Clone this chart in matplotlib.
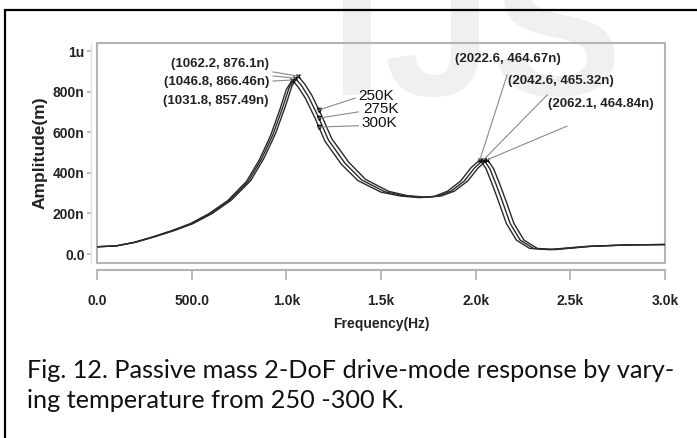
import numpy as np
import matplotlib.pyplot as plt
from matplotlib.patches import Rectangle

# drive-mode response (frequency in Hz, amplitude in nm)
freq_250 = [0, 101, 203, 304, 406, 507, 609, 710, 812, 883, 944, 995, 1030, 1062.2, 1096, 1134,
            1186, 1240, 1330, 1418, 1540, 1638, 1738, 1818, 1888, 1958, 2014, 2062.1, 2095, 2125,
            2160, 2202, 2255, 2325, 2418, 2515, 2612, 2808, 3000]
amp_250 = [36, 40, 58, 85, 115, 150, 200, 266, 362, 474, 596, 728, 829, 876.1, 839, 783,
           683, 568, 452, 368, 309, 288, 280, 286, 310, 360, 425, 464.84, 420, 350,
           262, 151, 69, 28, 22, 30, 38, 45, 47]

freq_275 = [0, 100, 200, 300, 400, 500, 600, 700, 800, 870, 930, 980, 1015, 1046.8, 1080, 1117,
            1169, 1222, 1310, 1398, 1520, 1620, 1720, 1800, 1870, 1940, 1995, 2042.6, 2075, 2105,
            2140, 2182, 2235, 2305, 2400, 2500, 2600, 2800, 3000]
amp_275 = [36, 40, 58, 85, 115, 150, 200, 265, 360, 470, 590, 720, 820, 866.46, 830, 775,
           676, 562, 447, 365, 307, 287, 279, 285, 310, 360, 425, 465.32, 420, 350,
           262, 151, 69, 28, 22, 30, 38, 45, 47]

freq_300 = [0, 99, 197, 296, 394, 493, 591, 690, 789, 858, 917, 966, 1000, 1031.8, 1064, 1101,
            1152, 1204, 1291, 1378, 1500, 1602, 1702, 1782, 1852, 1921, 1975, 2022.6, 2055, 2085,
            2120, 2162, 2215, 2285, 2382, 2485, 2588, 2792, 3000]
amp_300 = [36, 40, 58, 85, 115, 150, 199, 263, 357, 465, 584, 712, 811, 857.49, 821, 767,
           669, 556, 442, 362, 305, 286, 278, 284, 310, 360, 425, 464.67, 420, 350,
           262, 151, 69, 28, 22, 30, 38, 45, 47]

temps = ["250K", "275K", "300K"]
peak1 = [(1062.2, 876.1), (1046.8, 866.46), (1031.8, 857.49)]
peak2 = [(2062.1, 464.84), (2042.6, 465.32), (2022.6, 464.67)]

xticks = [0, 500, 1000, 1500, 2000, 2500, 3000]
xlabels = ["0.0", "500.0", "1.0k", "1.5k", "2.0k", "2.5k", "3.0k"]
yticks = [0, 200, 400, 600, 800, 1000]
ylabels = ["0.0", "200n", "400n", "600n", "800n", "1u"]

W, H = 697, 438
fig = plt.figure(figsize=(W / 100, H / 100), dpi=100)

# watermark, behind everything
fig.text(330 / W, 1 - 95 / H, "IJS", fontsize=140, fontweight="bold", color="#f0f0f0",
         family="Liberation Sans", zorder=-5)

# outer frame of the figure box
fig.patches.append(Rectangle((5 / W, -0.1), 1.2, 1 - 10 / H + 0.1, transform=fig.transFigure,
                             fill=False, ec="black", lw=1.6, zorder=-4))

ax = fig.add_axes([97 / W, 1 - 263 / H, (665 - 97) / W, (263 - 42.7) / H])
ax.set_zorder(2)
ax.patch.set_alpha(0)
gray = "#b4b4b4"

curves = [(freq_250, amp_250), (freq_275, amp_275), (freq_300, amp_300)]
for f, a in curves:
    ax.plot(f, a, color="#2a2a2a", lw=1.0)

for (fx, av) in peak1 + peak2:
    ax.plot(fx, av, marker="x", ms=3, color="#111111", mew=1)

ax.set_xlim(0, 3000)
ax.set_ylim(-44, 1041)

# frame
ax.add_patch(Rectangle((0, 0), 1, 1, transform=ax.transAxes, fill=False, ec=gray, lw=1.5,
                       clip_on=False))
for s in ["top", "right"]:
    ax.spines[s].set_visible(False)
ax.spines["bottom"].set_position(("outward", 5))
ax.spines["bottom"].set_color(gray)
ax.spines["bottom"].set_linewidth(1.5)
ax.spines["left"].set_position(("outward", 4))
ax.spines["left"].set_color("#e4e4e4")
ax.spines["left"].set_linewidth(1)

ax.set_xticks(xticks, xlabels)
ax.set_yticks(yticks, ylabels)
ax.tick_params(axis="x", length=7, width=1.3, color=gray, pad=10)
ax.tick_params(axis="y", length=3, width=1.2, color=gray, pad=2)
for lab in ax.get_xticklabels() + ax.get_yticklabels():
    lab.set_fontfamily("Liberation Sans")
    lab.set_fontweight("bold")
    lab.set_fontsize(10)
    lab.set_color("#222222")

ax.set_xlabel("Frequency(Hz)", family="Liberation Sans", fontweight="bold", fontsize=10,
              color="#222222", labelpad=7)
ax.set_ylabel("Amplitude(m)", family="Liberation Sans", fontweight="bold", fontsize=12.5,
              color="#222222", labelpad=4)

# peak annotations, left cluster
left_text = [(908, 936), (908, 847), (908, 754)]
left_start = [(930, 897), (930, 877), (930, 852)]
for (fx, av), (tx, ty), (sx, sy) in zip(peak1, left_text, left_start):
    ax.text(tx, ty, f"({fx}, {av}n)", ha="right", va="center", fontsize=9.5,
            fontweight="bold", family="Liberation Sans", color="#222222")
    ax.plot([sx, fx], [sy, av], color="#8a8a8a", lw=0.8)

# right cluster
right_text = [(2382, 739), (2171, 852), (1891, 961)]
right_start = [(2482, 630), (2377, 783), (2166, 882)]
for (fx, av), (tx, ty), (sx, sy) in zip(peak2, right_text, right_start):
    ax.text(tx, ty, f"({fx}, {av}n)", ha="left", va="center", fontsize=9.5,
            fontweight="bold", family="Liberation Sans", color="#222222")
    ax.plot([sx, fx], [sy, av], color="#8a8a8a", lw=0.8)

# temperature labels
temp_text = [(1378, 778), (1405, 714), (1395, 645)]
temp_start = [(1363, 768), (1380, 700), (1380, 632)]
for (f, a), name, (tx, ty), (sx, sy) in zip(curves, temps, temp_text, temp_start):
    px = 1172
    py = np.interp(px, f, a)
    ax.plot(px, py, marker="v", ms=3, color="#111111")
    ax.plot([sx, px], [sy, py], color="#8a8a8a", lw=0.8)
    ax.text(tx, ty, name, ha="left", va="center", fontsize=11, family="Liberation Sans",
            color="#111111")

caption = ["Fig. 12. Passive mass 2-DoF drive-mode response by vary-",
           "ing temperature from 250 -300 K."]
fig.text(27 / W, 1 - 371 / H, caption[0], va="center", ha="left", fontsize=18.2, family="Lato",
         color="#111111")
fig.text(27 / W, 1 - 401 / H, caption[1], va="center", ha="left", fontsize=18.2, family="Lato",
         color="#111111")

fig.savefig("out.png", dpi=100)
